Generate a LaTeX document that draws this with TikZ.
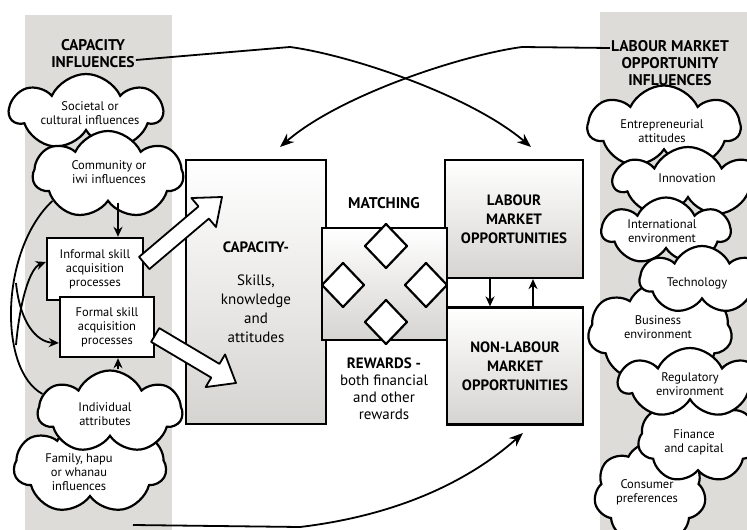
\documentclass[tikz,border=0pt]{standalone}
\usepackage{fontspec}
\setmainfont{PT Sans}
\usetikzlibrary{arrows.meta,calc,shapes.symbols}

\definecolor{bandgray}{RGB}{222,220,217}
\definecolor{boxgray}{RGB}{214,212,209}

\newcommand\puffsize{\fontsize{12.5}{14}\selectfont}
\newcommand\headsize{\fontsize{15.5}{17}\selectfont\bfseries}
\newcommand\panelsize{\fontsize{15}{19}\selectfont}

% cloud of a fixed size: name, centre, width, height
\newcommand\puff[4]{%
  \node[puffshape, minimum width=#3, minimum height=#4] (#1) at (#2) {};}

% fat white arrow from #1 to #2
\newcommand\fatarrow[2]{%
  \coordinate (fa-h) at ($(#2)!24pt!(#1)$);
  \filldraw[fatline] ($(#1)!8pt!90:(#2)$) -- ($(fa-h)!8pt!-90:(#1)$)
    -- ($(fa-h)!19pt!-90:(#1)$) -- (#2) -- ($(fa-h)!19pt!90:(#1)$)
    -- ($(fa-h)!8pt!90:(#1)$) -- ($(#1)!8pt!-90:(#2)$) -- cycle;}

\tikzset{
  band/.style={fill=bandgray, draw=none},
  heading/.style={font=\headsize, align=center, inner sep=1pt},
  puffshape/.style={cloud, cloud puffs=7, cloud puff arc=130, draw, line width=2.2pt,
    fill=white, inner sep=0pt},
  pufftext/.style={font=\puffsize, align=center, inner sep=0pt},
  skillbox/.style={draw, line width=2.4pt, fill=white, align=center, font=\puffsize,
    inner sep=2pt},
  panel/.style={draw, line width=2.2pt, top color=white, bottom color=boxgray,
    align=center, font=\panelsize},
  notch/.style={draw, line width=2.2pt, fill=white, line join=round},
  link/.style={line width=1.8pt, -{Stealth[length=10pt,width=9pt]}},
  sweep/.style={line width=1.8pt, -{Stealth[length=14pt,width=11pt]}},
  fatline/.style={line width=1.8pt, fill=white, line join=round},
}

\begin{document}
\begin{tikzpicture}[x=1pt, y=-1pt]
  \useasboundingbox (0,0) rectangle (747,530);
  \clip (0,0) rectangle (747,530);

  % side bands
  \fill[band] (25,15) rectangle (172,530);
  \fill[band] (600,12) rectangle (747,530);

  \node[heading] (capinf) at (93,54) {CAPACITY\\INFLUENCES};
  \node[heading] (lmoinf) at (670,63) {LABOUR MARKET\\OPPORTUNITY\\INFLUENCES};

  % capacity side
  \puff{societal}{86,112}{152}{76}
  \puff{community}{108,175}{150}{88}
  \node[skillbox, minimum width=96, minimum height=62] (informal) at (95,269)
    {Informal skill\\acquisition\\processes};
  \node[skillbox, minimum width=94, minimum height=60] (formal) at (107,327)
    {Formal skill\\acquisition\\processes};
  \puff{family}{90,467}{152}{94}
  \puff{individual}{110,412}{144}{83}

  % opportunity side
  \puff{entre}{664,127}{152}{83}
  \puff{innov}{688,182}{148}{70}
  \puff{intl}{666,231}{128}{67}
  \puff{business}{660,332}{144}{100}
  \puff{tech}{702,280}{124}{68}
  \puff{consumer}{650,493}{112}{100}
  \puff{finance}{698,440}{120}{86}
  \puff{regul}{690,383}{142}{70}

  \node[pufftext] (societal-t) at (90,113) {Societal or\\cultural influences};
  \node[pufftext] (community-t) at (109,172) {Community or\\iwi influences};
  \node[pufftext] (individual-t) at (105,414) {Individual\\attributes};
  \node[pufftext] (family-t) at (79,472) {Family, hapu\\or whanau\\influences};
  \node[pufftext] (entre-t) at (662,131) {Entrepreneurial\\attitudes};
  \node[pufftext] (innov-t) at (687,178) {Innovation};
  \node[pufftext] (intl-t) at (662,231) {International\\environment};
  \node[pufftext] (tech-t) at (697,283) {Technology};
  \node[pufftext] (business-t) at (658,327) {Business\\environment};
  \node[pufftext] (regul-t) at (690,384) {Regulatory\\environment};
  \node[pufftext] (finance-t) at (694,442) {Finance\\and capital};
  \node[pufftext] (consumer-t) at (647,492) {Consumer\\preferences};

  % centre panels
  \node[panel, minimum width=140, minimum height=264] (cap) at (256,292)
    {\textbf{CAPACITY-}\\[14pt]Skills,\\knowledge\\and\\attitudes};
  \node[panel, minimum width=138, minimum height=118] (lmo) at (514,219)
    {\bfseries LABOUR\\\bfseries MARKET\\\bfseries OPPORTUNITIES};
  \node[panel, minimum width=136, minimum height=117] (nonlmo) at (515,366)
    {\bfseries NON-LABOUR\\\bfseries MARKET\\\bfseries OPPORTUNITIES};
  \node[panel, minimum width=125, minimum height=112] (match) at (384.5,284) {};
  \foreach \cx/\cy in {386/246, 343/285, 426/285, 386/322}
    \draw[notch] (\cx-21,\cy) -- (\cx,\cy-22) -- (\cx+21,\cy) -- (\cx,\cy+22) -- cycle;
  \node[font=\headsize] (matching) at (384,203) {MATCHING};
  \node[align=center, font=\panelsize] (rewards) at (384,389)
    {\textbf{REWARDS -}\\[-2pt]both financial\\[-2pt]and other\\[-2pt]rewards};

  % influences feeding the panels
  \coordinate (capin) at (280,147);
  \coordinate (lmoin) at (531,147);
  \draw[sweep] ([yshift=-6pt]capinf.east) -- (290,47)
    .. controls (350,55) and (470,95) .. (lmoin);
  \draw[sweep] ([yshift=15pt]lmoinf.west) -- (522,47)
    .. controls (462,55) and (340,95) .. (capin);

  % skill processes into capacity
  \coordinate (capup) at (222,197);
  \coordinate (capdown) at (236,383);
  \fatarrow{[yshift=6pt]informal.east}{capup}
  \fatarrow{[yshift=-8pt]formal.east}{capdown}

  \draw[link] ([xshift=23pt]informal.north |- community.south)
    -- ([xshift=23pt]informal.north);
  \draw[link] ([xshift=11pt]formal.south |- individual.north)
    -- ([xshift=11pt]formal.south);

  % loop down the left edge
  \coordinate (la) at (16,345);
  \coordinate (lb) at (16,283);
  \draw[line width=1.8pt] (community.205) .. controls (0,250) and (-2,370) .. (individual.165);
  \draw[link] (la) .. controls (20,300) and (30,268) .. ([yshift=7pt]informal.west);
  \draw[link] (lb) .. controls (20,322) and (36,342) .. ([yshift=-16pt]formal.west);

  % between the two opportunity panels
  \draw[link] ([xshift=-24pt]lmo.south) -- ([xshift=-25pt]nonlmo.north);
  \draw[link] ([xshift=18pt]nonlmo.north) -- ([xshift=19pt]lmo.south);

  % rewards back round the bottom
  \coordinate (famout) at (133,525);
  \coordinate (nlin) at (523,433);
  \draw[sweep] (famout) -- (300,527) .. controls (400,515) and (470,480) .. (nlin);
\end{tikzpicture}
\end{document}
